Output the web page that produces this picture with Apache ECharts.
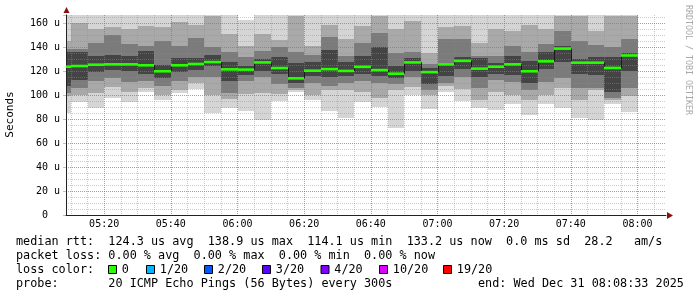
<!DOCTYPE html>
<html><head><meta charset="utf-8">
<script src="https://cdn.jsdelivr.net/npm/echarts@6/dist/echarts.min.js"></script>
<style>html,body{margin:0;padding:0;background:#fff}#c{width:697px;height:297px}</style>
</head><body><div id="c"></div>
<script>
// Column start times (minutes after midnight), each column = one 300 s step
const colStart = [305,310,315,320,325,330,335,340,345,350,355,360,365,370,375,380,385,390,395,400,405,410,415,420,425,430,435,440,445,450,455,460,465,470,475];
// median rtt per step (us)
const median = [123.8,124.4,125.5,125.8,125.8,125.0,120.0,125.0,126.1,127.7,121.6,121.4,127.4,122.7,114.1,120.5,121.8,120.3,123.7,121.0,118.0,127.4,119.3,125.8,128.7,122.2,123.8,125.8,120.0,128.3,138.9,127.2,127.2,122.8,133.2];
// smoke bands (outer -> inner): upper and lower edges
const top1 = [167,167,167,167,167,167,167,167,167,167,167,162.5,167,167,167,167,167,167,167,167,167,167,167,167,167,167,167,167,167,167,167,167,167,167,167];
const top2 = [145,160,155,157,155,158,157,161,159,166,151,141,151,146,166,141,159,147,158,166,155,162,135,157,158,144,155,154,159,155,166,166,154,166,166];
const top3 = [139,139,144,150,143,141,145,141,148,140,136,132,137,140,136,134,149,133,144,152,135,136,126,147,147,133,133,141,136,143,154,145,142,140,147];
const top4 = [136,136,133,134,133,137,125,131,131,134,128,124,130,132,127,128,138,128,133,140,124,131,123,127,132,131,127,133,129,136,141,130,132,132,135];
const bot4 = [108,113,119,121,120,118,114,119,121,124,112,117,120,118,110,116,115,116,118,116,114,120,109,116,122,115,118,117,110,122,128,118,117,103,120];
const bot3 = [102,106,112,114,111,112,108,112,115,115,102,112,115,109,106,110,108,110,112,110,109,115,104,110,115,106,113,111,104,111,114,106,106,98,106];
const bot2 = [99,100,102,107,103,106,100,104,110,100,97,101,102,101,104,100,104,104,103,98,104,107,100,108,105,96,103,100,96,100,106,96,104,96,99];
const bot1 = [85,94.5,89,98,94,103,96,102,105,85,89,86.5,79,95.5,102.5,96,86.8,81,94.4,90.5,73,100,88.7,103,95.2,89.5,88,93,83.5,93,89,81,79,92.5,86];
// axis ticks and labels
const xTicks = [320,340,360,380,400,420,440,460,480];
const xTickLabels = ['05:20','05:40','06:00','06:20','06:40','07:00','07:20','07:40','08:00'];
const yTicks = [0,20,40,60,80,100,120,140,160];
const yTickLabels = ['0  ','20 u','40 u','60 u','80 u','100 u','120 u','140 u','160 u'];
// loss legend
const lossLabels = ['0','1/20','2/20','3/20','4/20','10/20','19/20'];
const lossColors = ['#26ff00','#00b8ff','#0059ff','#5e00ff','#7e00ff','#dd00ff','#ff0000'];

const STEP = 5;
const xMin = 308.55, xMax = 488.55;
const bandColors = ['#d5d5d5','#a9a9a9','#7b7b7b','#444444'];
const mono = '"DejaVu Sans Mono", monospace';
const gridCol = 'rgba(143,143,143,0.45)';
const mgridCol = 'rgba(235,60,60,0.45)';
const legendFont = '11.8px ' + mono;

const smokeData = colStart.map((s,i)=>[s, s+STEP, top1[i], bot1[i], top2[i], bot2[i], top3[i], bot3[i], top4[i], bot4[i]]);
const medData = colStart.map((s,i)=>[s, s+STEP, median[i], i>0 ? median[i-1] : median[i]]);

function lookup(ticks, labels, v){
  for (let i=0;i<ticks.length;i++) if (Math.abs(ticks[i]-v) < 1e-6) return labels[i];
  return '';
}

const chart = echarts.init(document.getElementById('c'), null, {renderer:'canvas'});
const lossGraphics = [];
const boxX = [108,146,204,262,320.5,379,443];
lossLabels.forEach((l,i)=>{
  lossGraphics.push({type:'rect', shape:{x:boxX[i]+0.5, y:265.5, width:8, height:8}, style:{fill:lossColors[i], stroke:'#000', lineWidth:1}});
  lossGraphics.push({type:'text', x:boxX[i]+13.8, y:269.5, style:{text:l, font:legendFont, fill:'#000', verticalAlign:'middle'}});
});

chart.setOption({
  animation:false,
  backgroundColor:'#fff',
  grid:{left:66, right:31, top:15, bottom:82, outerBoundsMode:'none', containLabel:false},
  xAxis:[{
    type:'value', min:xMin, max:xMax, splitNumber:9, minInterval:20, maxInterval:20, position:'bottom', z:3,
    axisLine:{show:true, lineStyle:{color:'#222', width:1}},
    axisTick:{show:false},
    axisLabel:{show:true, margin:4, color:'#000', fontFamily:mono, fontSize:10, formatter:v=>lookup(xTicks,xTickLabels,v)},
    splitLine:{show:true, showMinLine:false, showMaxLine:false, lineStyle:{color:mgridCol, width:1, type:[1,1]}}
  },{
    type:'value', min:xMin, max:xMax, splitNumber:36, minInterval:5, maxInterval:5, position:'bottom', z:2,
    axisLine:{show:false}, axisTick:{show:false}, axisLabel:{show:false},
    splitLine:{show:true, showMinLine:false, showMaxLine:false, lineStyle:{color:gridCol, width:1, type:[1,1]}}
  }],
  yAxis:[{
    type:'value', min:0, max:167, interval:20, position:'left', z:3,
    axisLine:{show:true, lineStyle:{color:'#222', width:1}},
    axisTick:{show:true, length:3, lineStyle:{color:mgridCol}},
    axisLabel:{show:true, margin:6, color:'#000', fontFamily:mono, fontSize:10, formatter:v=>lookup(yTicks,yTickLabels,v)},
    splitLine:{show:true, showMinLine:false, showMaxLine:false, lineStyle:{color:mgridCol, width:1, type:[1,1]}}
  },{
    type:'value', min:0, max:167, interval:5, position:'left', z:2,
    axisLine:{show:false}, axisTick:{show:false}, axisLabel:{show:false},
    splitLine:{show:true, showMinLine:false, showMaxLine:false, lineStyle:{color:gridCol, width:1, type:[1,1]}}
  }],
  series:[{
    type:'custom', name:'smoke', xAxisIndex:0, yAxisIndex:0, clip:true, z:1, silent:true,
    data:smokeData,
    renderItem:function(params, api){
      const x0 = Math.round(api.coord([api.value(0), 0])[0]);
      const x1 = Math.round(api.coord([api.value(1), 0])[0]);
      const ch = [];
      for (let b=0;b<4;b++){
        const yt = Math.round(api.coord([0, api.value(2+2*b)])[1]);
        const yb = Math.round(api.coord([0, api.value(3+2*b)])[1]);
        ch.push({type:'rect', shape:{x:x0, y:yt, width:x1-x0, height:yb-yt}, style:{fill:bandColors[b]}});
      }
      return {type:'group', children:ch};
    }
  },{
    type:'custom', name:'median', xAxisIndex:0, yAxisIndex:0, clip:true, z:5, silent:true,
    data:medData,
    renderItem:function(params, api){
      const x0 = Math.round(api.coord([api.value(0), 0])[0]);
      const x1 = Math.round(api.coord([api.value(1), 0])[0]);
      const y = api.coord([0, api.value(2)])[1];
      const yp = api.coord([0, api.value(3)])[1];
      return {type:'group', children:[
        {type:'line', shape:{x1:x0+0.5, y1:yp, x2:x0+0.5, y2:y}, style:{stroke:'#1a1a1a', lineWidth:1}},
        {type:'rect', shape:{x:x0, y:y-1.3, width:x1-x0, height:2.6}, style:{fill:'#26ff00'}}
      ]};
    }
  }],
  graphic:[
    {type:'polygon', shape:{points:[[63.5,13],[69.5,13],[66.5,7]]}, style:{fill:'#8b1010'}},
    {type:'polygon', shape:{points:[[667,212],[667,219],[673,215.5]]}, style:{fill:'#8b1010'}},
    {type:'text', x:10.5, y:114.5, rotation:Math.PI/2, style:{text:'Seconds', font:'11px '+mono, fill:'#000', align:'center', verticalAlign:'middle'}},
    {type:'text', x:688, y:5, rotation:-Math.PI/2, style:{text:'RRDTOOL / TOBI OETIKER', font:'8.3px '+mono, fill:'#a8a8a8', align:'left', verticalAlign:'middle'}},
    {type:'text', x:16, y:241.5, style:{text:'median rtt:  124.3 us avg  138.9 us max  114.1 us min  133.2 us now  0.0 ms sd  28.2   am/s', font:legendFont, fill:'#000', verticalAlign:'middle'}},
    {type:'text', x:16, y:255.5, style:{text:'packet loss: 0.00 % avg  0.00 % max  0.00 % min  0.00 % now', font:legendFont, fill:'#000', verticalAlign:'middle'}},
    {type:'text', x:16, y:269.5, style:{text:'loss color:', font:legendFont, fill:'#000', verticalAlign:'middle'}},
    {type:'text', x:16, y:283.5, style:{text:'probe:       20 ICMP Echo Pings (56 Bytes) every 300s', font:legendFont, fill:'#000', verticalAlign:'middle'}},
    {type:'text', x:478, y:283.5, style:{text:'end: Wed Dec 31 08:08:33 2025', font:legendFont, fill:'#000', verticalAlign:'middle'}}
  ].concat(lossGraphics)
});
</script></body></html>
